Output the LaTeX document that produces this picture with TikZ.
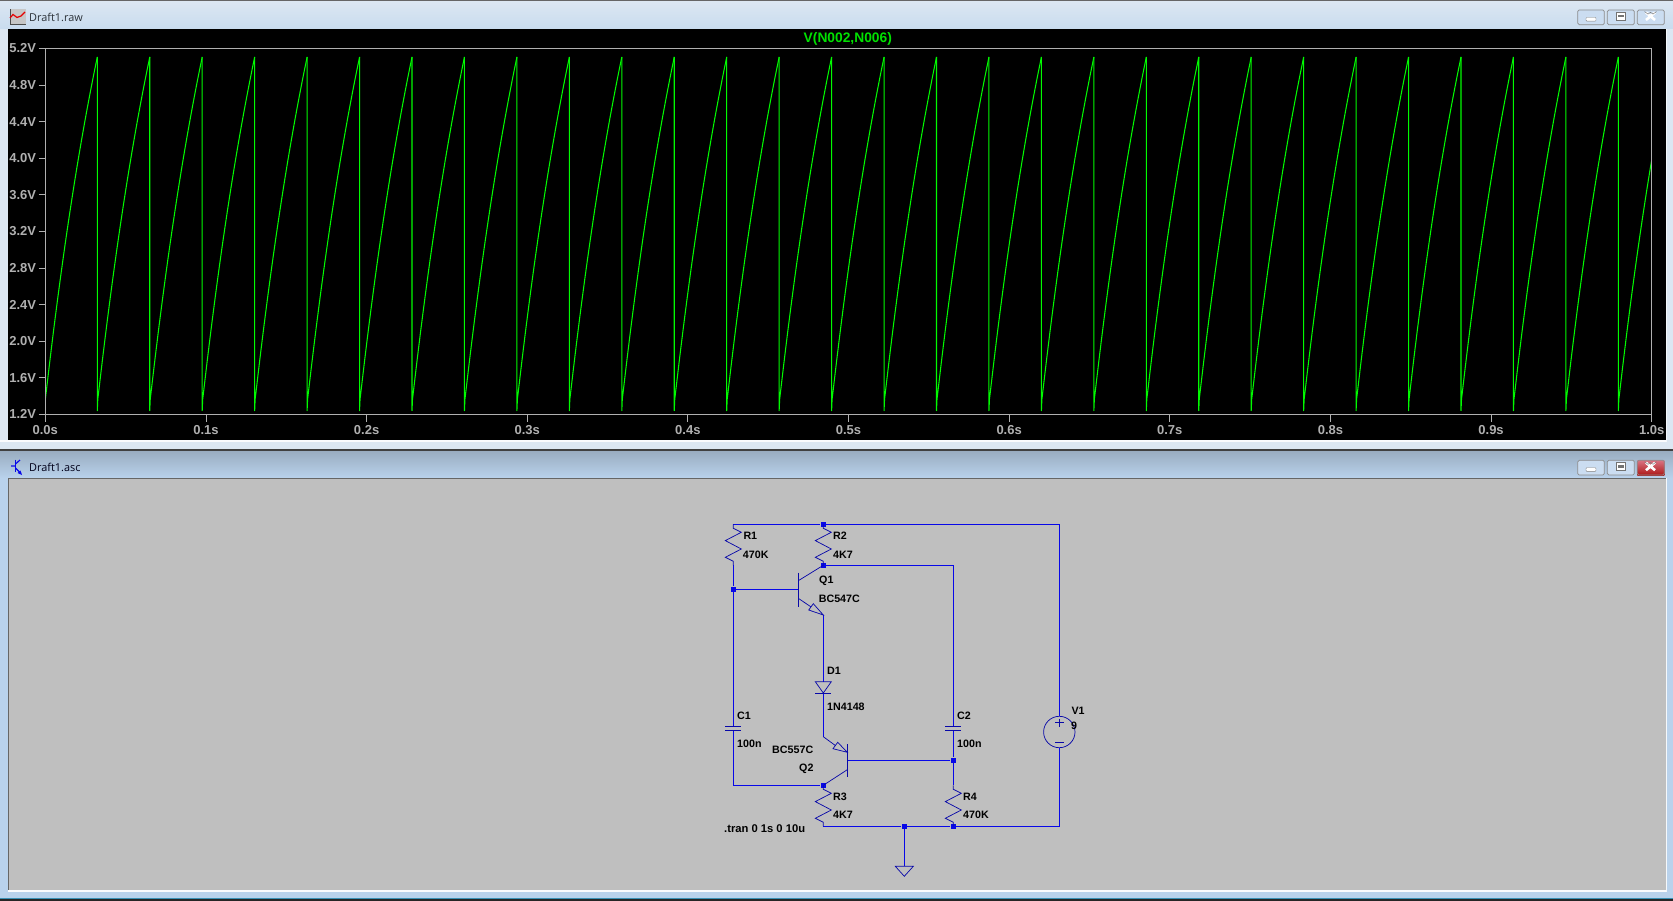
\documentclass[tikz,border=0pt]{standalone}
\usepackage{fontspec}
\setmainfont{Liberation Sans}
\newfontfamily\titlefont{Open Sans}
\definecolor{wireblue}{HTML}{0808E8}
\definecolor{symblue}{HTML}{0808A8}
\definecolor{axisgrey}{HTML}{B0B0B0}
\definecolor{tracegreen}{HTML}{00FA00}
\definecolor{paperg}{HTML}{BFBFBF}
\definecolor{frameA}{HTML}{DCE7F2}
\definecolor{frameB}{HTML}{B9D2EC}
\tikzset{
 x=1pt,y=-1pt,
 wire/.style={draw=wireblue,line width=0.9pt},
 sym/.style={draw=symblue,line width=0.72pt,line join=miter},
 jn/.style={fill=wireblue,draw=none,minimum size=5.6pt,inner sep=0pt,rectangle},
 lab/.style={font=\fontsize{10.7}{12}\selectfont\bfseries,inner sep=0pt,anchor=west,text=black},
 axlab/.style={font=\fontsize{13}{15}\selectfont\bfseries,inner sep=0pt,text=axisgrey},
 titlelab/.style={font=\titlefont\fontsize{10.9}{12}\selectfont,inner sep=0pt,anchor=west},
 winbtn/.style={draw=#1,line width=0.7pt,rounded corners=1.5pt},
}
\begin{document}
\begin{tikzpicture}
\useasboundingbox (0,0) rectangle (1673,901);
% ---------- window chrome
\fill[frameB] (0,0) rectangle (1673,901);
\fill[frameA] (0,0) rectangle (1673,449);
\shade[top color=frameA,bottom color=frameB!55!frameA] (0,1) rectangle (1673,29);
\fill[black!60] (0,0) rectangle (1673,1);
\fill[black!75] (0,449) rectangle (1673,451);
\shade[top color=frameB!80!black!95,bottom color=frameB] (0,451) rectangle (1673,478);
\fill[white!85!frameA] (0,440) rectangle (1666,442);
\fill[white!70!frameA] (1666,29) rectangle (1667,442);
% title bar buttons
\foreach \yt/\yb/\cl/\frm in {10/24.7/frameA!70!black!15!frameB/black!45,460.3/475/frameB/black!45}{
  \filldraw[winbtn=\frm,fill=frameB!75!white] (1577.7,\yt) rectangle (1604.3,\yb);
  \filldraw[winbtn=\frm,fill=frameB!75!white] (1607.3,\yt) rectangle (1634.3,\yb);
}
\filldraw[winbtn=black!45,fill=frameB!75!white] (1637.3,10) rectangle (1664.3,24.7);
\shade[top color=red!45!frameB,bottom color=red!65!black!90] (1637.3,460.3) rectangle (1664.3,475);
\draw[winbtn=black!45] (1637.3,460.3) rectangle (1664.3,475);
\foreach \yc in {17.5,467.7}{
  \filldraw[draw=black!50,fill=white,rounded corners=0.8pt] (1586,\yc) rectangle (1596,\yc+3.6);
  \filldraw[draw=black!55,fill=white,line width=0.7pt] (1616,\yc-5) rectangle (1625.5,\yc+3);
  \fill[black!55] (1618,\yc-2.4) rectangle (1623.5,\yc);
  \draw[white,line width=2.6pt] (1646,\yc-5) -- (1655,\yc+2.5) (1655,\yc-5) -- (1646,\yc+2.5);
  \draw[black!50,line width=0.5pt] (1644.5,\yc-6) -- (1648,\yc-3.4) -- (1650.5,\yc-5.2) -- (1653,\yc-3.4) -- (1656.5,\yc-6);
}
% icons
\fill[black!22] (9.5,9.5) rectangle (25.5,25);
\draw[black!70,line width=0.7pt] (10.5,9.5) -- (10.5,24) -- (25.5,24);
\foreach \xx in {12,14,...,24}{\draw[black!70,line width=0.7pt] (\xx,24) -- (\xx,25.2);}
\draw[red!90!black,line width=1.2pt] (10,18) -- (13,14.5) -- (17,17.5) -- (21,16) -- (25,12);
\draw[wireblue,line width=1.2pt] (15.5,459.5) -- (15.5,472);
\draw[wireblue,line width=1.2pt] (11,466) -- (15.5,466) (15.5,464) -- (20,460) (15.5,468) -- (21,473.5);
\fill[wireblue] (22,475) -- (17.5,473) -- (20.5,470.5) -- cycle;
% titles
\node[titlelab,text=black!60!frameB!60!black] (rawtitle) at (29,17.5) {Draft1.raw};
\node[titlelab,text=black!90!blue] (asctitle) at (29,467.5) {Draft1.asc};
% ---------- plot window
\fill[black] (8,29) rectangle (1665.7,440);
\begin{scope}
 \clip (45.4,48.5) rectangle (1651.7,414.3);
 \foreach \i in {0,...,30}{
  \begin{scope}[shift={(44.85+52.45*\i,0)}]
   \draw[tracegreen,line width=1.05pt,line join=round]
     (0,57) -- (0,410.7) -- (0.5,399) -- (1,395)
     -- plot[domain=1:52.45,samples=14,smooth] (\x,{395-338*(1-exp(-0.6*(\x-1)/51.45))/0.4512});
  \end{scope}
 }
\end{scope}
\draw[axisgrey,line width=0.8pt] (45.3,48.5) rectangle (1651.7,414.3);
\foreach \lab [count=\k from 0] in {1.2V,1.6V,2.0V,2.4V,2.8V,3.2V,3.6V,4.0V,4.4V,4.8V,5.2V}{
  \draw[axisgrey,line width=0.8pt] (38.6,414.3-36.58*\k) -- (45.3,414.3-36.58*\k);
  \node[axlab,anchor=east] (yl\k) at (36.3,414.3-36.58*\k) {\lab};
}
\foreach \lab [count=\k from 0] in {0.0s,0.1s,0.2s,0.3s,0.4s,0.5s,0.6s,0.7s,0.8s,0.9s,1.0s}{
  \draw[axisgrey,line width=0.8pt] (45.3+160.64*\k,414.3) -- (45.3+160.64*\k,421.5);
  \node[axlab] (xl\k) at (45.3+160.64*\k,430.5) {\lab};
}
\node[axlab,text=tracegreen!90!black,font=\fontsize{13.8}{15}\selectfont\bfseries] (trname) at (847.8,38.6) {V(N002,N006)};
% ---------- schematic window
\fill[paperg] (8,478) rectangle (1665.7,890);
\fill[black!60] (7.5,478) rectangle (9,890);
\fill[black!60] (7.5,477.5) rectangle (1665.7,479);
\fill[white!85!frameA] (8,890) rectangle (1666,891.5);
\fill[white!70!frameA] (1665.7,478) rectangle (1667,891.5);
\fill[cyan!70!black] (0,897.6) rectangle (1673,898.6);
\fill[black!85] (0,898.6) rectangle (1673,901);
% named points and junctions
\coordinate (r1top) at (733.3,524.3);
\node[jn] (rail) at (823.3,524.3) {};
\coordinate (railend) at (1059.3,524.3);
\node[jn] (ncoll) at (823.3,565.3) {};
\coordinate (c2corner) at (953.3,565.3);
\node[jn] (nbase) at (733.3,589.3) {};
\coordinate (q1b) at (798.3,589.3);
\coordinate (q1c) at (798.3,580.7);
\coordinate (q1e) at (798.3,598.3);
\coordinate (q1et) at (823.3,615);
\coordinate (q1em) at (811,606.9);
\coordinate (dtop) at (823.3,681.7);
\coordinate (dbot) at (823.3,693);
\coordinate (q2et) at (823.3,736.7);
\coordinate (q2em) at (835.35,745.5);
\coordinate (q2e) at (847.3,752.3);
\coordinate (q2c) at (847.3,769.7);
\coordinate (q2b) at (847.3,760.3);
\node[jn] (n2b) at (953.3,760.3) {};
\node[jn] (ncol2) at (823.3,785.3) {};
\coordinate (c1corner) at (733.3,785.3);
\coordinate (r3bot) at (823.3,826.3);
\node[jn] (gndn) at (904.3,826.3) {};
\node[jn] (r4bot) at (953.3,826.3) {};
\coordinate (railbot) at (1059.3,826.3);
\coordinate (gndt) at (904.3,866.3);
\coordinate (c1a) at (733.3,726);
\coordinate (c1b) at (733.3,730.3);
\coordinate (c2a) at (953.3,726);
\coordinate (c2b) at (953.3,730.3);
\coordinate (r1bot) at (733.3,565.3);
\coordinate (r4top) at (953.3,785.3);
\node[draw=symblue,line width=0.72pt,circle,minimum size=31.4pt,inner sep=0pt] (v1) at (1059.3,732) {};
% wires
\draw[wire] (r1top) -- (rail) -- (railend) -- (v1.north);
\draw[wire] (v1.south) -- (railbot) -- (r4bot) -- (gndn) -- (r3bot);
\draw[wire] (ncoll) -- (c2corner) -- (c2a);
\draw[wire] (c2b) -- (n2b) -- (q2b);
\draw[wire] (n2b) -- (r4top);
\draw[wire] (nbase) -- (q1b);
\draw[wire] (r1bot) -- (nbase) -- (c1a);
\draw[wire] (c1b) -- (c1corner) -- (ncol2);
\draw[wire] (q1et) -- (dtop);
\draw[wire] (dbot) -- (q2et);
\draw[wire] (gndn) -- (gndt);
\foreach \n in {rail,ncoll,nbase,n2b,ncol2,gndn,r4bot}{\node[jn] at (\n) {};}
% resistors
\foreach \cx/\cy in {733.3/524.3,823.3/524.3,823.3/785.3,953.3/785.3}{
 \begin{scope}[shift={(\cx,\cy)}]
  \draw[sym] (0,0) -- (0,4) -- (8,8) -- (-8,16.3) -- (8,24.7) -- (-8,33) -- (0,37) -- (0,41);
 \end{scope}
}
% capacitors
\foreach \cx in {733.3,953.3}{
 \draw[sym] (\cx-8,726) -- (\cx+8,726) (\cx-8,730.3) -- (\cx+8,730.3);
}
% Q1
\draw[sym] (798.3,572.7) -- (798.3,606.7);
\draw[sym] (q1c) -- (ncoll.center);
\draw[sym] (q1e) -- (q1em);
\draw[sym] (q1et) -- (813.3,603.7) -- (808.7,610) -- cycle;
% D1
\draw[sym] (815.3,681.7) -- (831.3,681.7) -- (823.3,693) -- cycle;
\draw[sym] (815.3,693) -- (831.3,693);
% Q2
\draw[sym] (847.3,744) -- (847.3,777.3);
\draw[sym] (q2et) -- (q2em);
\draw[sym] (q2c) -- (ncol2.center);
\draw[sym] (q2e) -- (837.7,742.3) -- (833,748.7) -- cycle;
% V1 marks
\draw[sym] (1055,722.7) -- (1063.6,722.7) (1059.3,718.5) -- (1059.3,727) (1055,742.7) -- (1063.6,742.7);
% ground
\draw[sym] (895.3,866.3) -- (913.3,866.3) -- (904.3,876.3) -- cycle;
% labels
\node[lab] (lr1) at (743.3,536) {R1};
\node[lab] (vr1) at (742.7,555) {470K};
\node[lab] (lr2) at (833,536) {R2};
\node[lab] (vr2) at (833,555) {4K7};
\node[lab] (lq1) at (819,580.7) {Q1};
\node[lab] (vq1) at (818.6,599) {BC547C};
\node[lab] (ld1) at (827,671) {D1};
\node[lab] (vd1) at (827,707) {1N4148};
\node[lab] (lc1) at (737,716) {C1};
\node[lab] (vc1) at (737,744) {100n};
\node[lab] (lc2) at (957,716) {C2};
\node[lab] (vc2) at (957,744) {100n};
\node[lab] (vq2) at (772,750) {BC557C};
\node[lab] (lq2) at (799,769) {Q2};
\node[lab] (lr3) at (833,796.7) {R3};
\node[lab] (vr3) at (833,815) {4K7};
\node[lab] (lr4) at (963,796.7) {R4};
\node[lab] (vr4) at (963,815) {470K};
\node[lab,font=\fontsize{11.2}{12}\selectfont\bfseries] (tran) at (724,829) {.tran 0 1s 0 10u};
\node[lab] (lv1) at (1071.3,711) {V1};
\node[lab] (vv1) at (1071,726) {9};
\end{tikzpicture}
\end{document}
